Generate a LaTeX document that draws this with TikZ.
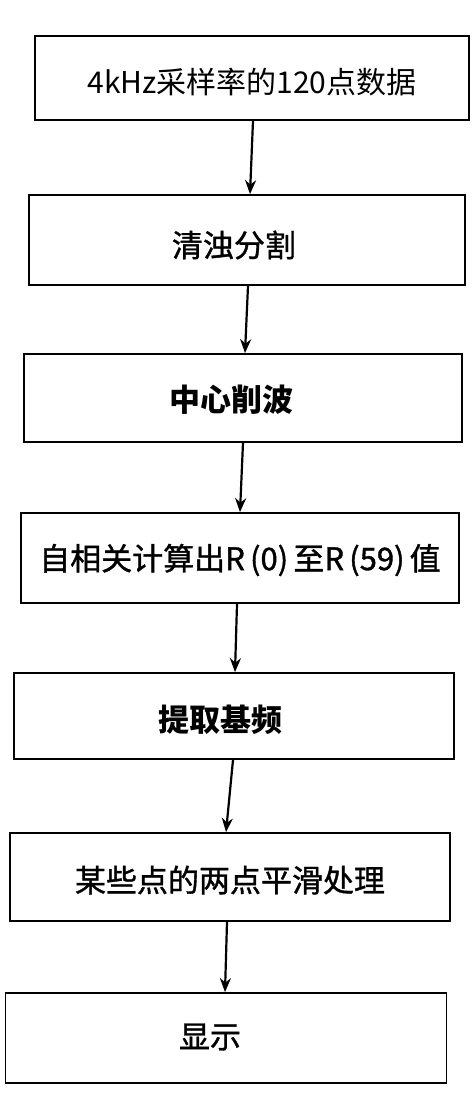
\documentclass[tikz,border=0pt]{standalone}
\usepackage{fontspec}
\setmainfont{Noto Sans CJK SC}
\newfontfamily\cjkmid[FakeBold=1.2]{Noto Sans CJK SC}
\usetikzlibrary{arrows.meta}
\tikzset{
  box/.style={draw=black, line width=1.8pt, rectangle, inner sep=0pt},
  lbl/.style={inner sep=0pt, font=\cjkmid\fontsize{31}{33}\selectfont},
  arr/.style={line width=2.2pt, -{Stealth[length=14pt,width=11pt]}}
}
\begin{document}
\begin{tikzpicture}[x=1pt,y=-1pt]
\useasboundingbox (0,0) rectangle (472,1096);
% boxes
\node[box, minimum width=434pt, minimum height=84pt] (b1) at (252,78) {};
\node[box, minimum width=436pt, minimum height=90pt] (b2) at (247,240) {};
\node[box, minimum width=438pt, minimum height=88pt] (b3) at (243,398) {};
\node[box, minimum width=438pt, minimum height=90pt] (b4) at (240,558) {};
\node[box, minimum width=440pt, minimum height=86pt] (b5) at (234,716) {};
\node[box, minimum width=440pt, minimum height=88pt] (b6) at (230,877) {};
\node[box, minimum width=441pt, minimum height=90pt] (b7) at (226,1038) {};
% labels
\node[lbl, font=\rmfamily\fontsize{30}{32}\selectfont] (t1) at (252,82) {4kHz采样率的120点数据};
\node[lbl] (t2) at (234,245) {清浊分割};
\node[lbl, font=\rmfamily\fontsize{31}{33}\selectfont\bfseries] (t3) at (231,400) {中心削波};
\node[lbl] (t4) at (240,560) {自相关计算出R\,(0)\,至R\,(59)\,值};
\node[lbl, font=\rmfamily\fontsize{31}{33}\selectfont\bfseries] (t5) at (220,720) {提取基频};
\node[lbl] (t6) at (230,880) {某些点的两点平滑处理};
\node[lbl] (t7) at (210,1037) {显示};
% arrows
\draw[arr] ([xshift=1pt]b1.south) -- ([xshift=3pt]b2.north);
\draw[arr] ([xshift=1pt]b2.south) -- ([xshift=2pt]b3.north);
\draw[arr] ([xshift=0pt]b3.south) -- ([xshift=0pt]b4.north);
\draw[arr] ([xshift=-3pt]b4.south) -- ([xshift=1pt]b5.north);
\draw[arr] ([xshift=-1pt]b5.south) -- ([xshift=-4pt]b6.north);
\draw[arr] ([xshift=-3pt]b6.south) -- ([xshift=-1pt]b7.north);
\end{tikzpicture}
\end{document}
